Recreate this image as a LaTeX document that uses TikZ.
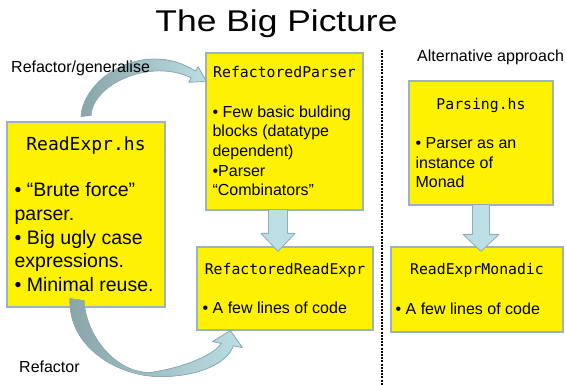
\documentclass[tikz,border=0pt]{standalone}
\usepackage{fontspec}
\usepackage{graphicx}
\setmainfont{Liberation Sans}
\setmonofont{DejaVu Sans Mono}
\usetikzlibrary{calc}

\definecolor{boxedge}{RGB}{155,178,196}
\definecolor{arrfill}{RGB}{187,223,228}
\definecolor{arredge}{RGB}{140,174,180}
\definecolor{arrdark}{RGB}{138,164,168}

\tikzset{
  box/.style={draw=boxedge, fill=yellow, line width=1.2pt, inner sep=0pt},
  code/.style={font=\ttfamily\fontsize{14.8}{17}\selectfont, anchor=base, inner sep=0pt},
  bullets/.style={font=\fontsize{16}{19.6}\selectfont, align=left, anchor=base west, inner sep=0pt},
  lbl/.style={font=\fontsize{16}{19}\selectfont, anchor=base west, inner sep=0pt},
  blockarr/.style={fill=arrfill, draw=arredge, line width=0.8pt, line join=round},
  curvearr/.style={left color=arrdark, right color=arrfill, draw=arredge, line width=0.8pt, line join=round}
}

\begin{document}
\begin{tikzpicture}[x=1pt, y=-1pt]

  \useasboundingbox (0,0) rectangle (566,385);

  \node[anchor=base, inner sep=0pt] (title) at (276.5,32)
    {\fontsize{30}{36}\selectfont\scalebox{1.18}[1]{The Big Picture}};

  % the boxes
  \node[box, minimum width=158pt, minimum height=185pt] (readexpr) at (86,214.5) {};
  \node[box, minimum width=157pt, minimum height=157pt] (rparser) at (284.5,131.5) {};
  \node[box, minimum width=176pt, minimum height=83pt] (rreadexpr) at (285,288.5) {};
  \node[box, minimum width=144pt, minimum height=124pt] (parsing) at (481,143) {};
  \node[box, minimum width=172pt, minimum height=85pt] (monadic) at (477,289.5) {};

  % separator
  \draw[line width=1.3pt, dash pattern=on 2pt off 1.2pt] (382,50) -- (382,385);

  % straight block arrows
  \coordinate (tipA) at ($(rreadexpr.north)+(-7,5)$);
  \coordinate (topA) at (tipA |- rparser.south);
  \filldraw[blockarr] ($(topA)+(-9.5,-1)$) -- ($(topA)+(9.5,-1)$) -- ($(tipA)+(9.5,-18)$)
    -- ($(tipA)+(17,-18)$) -- (tipA) -- ($(tipA)+(-17,-18)$) -- ($(tipA)+(-9.5,-18)$) -- cycle;

  \coordinate (tipB) at ($(monadic.north)+(4,5)$);
  \coordinate (topB) at (tipB |- parsing.south);
  \filldraw[blockarr] ($(topB)+(-8.5,-1)$) -- ($(topB)+(8.5,-1)$) -- ($(tipB)+(8.5,-17)$)
    -- ($(tipB)+(18,-17)$) -- (tipB) -- ($(tipB)+(-18,-17)$) -- ($(tipB)+(-8.5,-17)$) -- cycle;

  % curved arrows
  \coordinate (tailC) at ($(readexpr.north)+(0,-6)$);
  \coordinate (tipC) at ($(rparser.west)+(1,-50)$);
  \filldraw[curvearr] ($(tailC)+(-5,1)$) .. controls +(3,-40) and +(-50,-32) .. ($(tipC)+(-10.9,-10.4)$)
    -- ($(tipC)+(-8.3,-14.7)$) -- (tipC) -- ($(tipC)+(-17.7,0.7)$) -- ($(tipC)+(-15.1,-3.6)$)
    .. controls +(-40,-20) and +(2,-32) .. ($(tailC)+(5,0)$) -- cycle;

  \coordinate (tailD) at ($(readexpr.south)+(-9,-8)$);
  \coordinate (tipD) at ($(rreadexpr.south west)+(34,0)$);
  \filldraw[curvearr] ($(tailD)+(-7,-1)$) .. controls +(-2,50) and +(-40,0) .. ($(tailD)+(83,77)$)
    .. controls +(40,0) and +(-6,17) .. ($(tipD)+(2.9,15.2)$)
    -- ($(tipD)+(12,17)$) -- (tipD) -- ($(tipD)+(-18,11)$) -- ($(tipD)+(-8.9,12.8)$)
    .. controls +(-10,14) and +(28,-4) .. ($(tailD)+(73,73)$)
    .. controls +(-35,0) and +(2,35) .. ($(tailD)+(7,1)$) -- cycle;

  % box texts (base = last line)
  \node[code, font=\ttfamily\fontsize{18}{21}\selectfont] (readexprT) at ($(readexpr.north)+(0,29)$) {ReadExpr.hs};
  \node[bullets, font=\fontsize{19.5}{23.6}\selectfont] (readexprB) at ($(readexpr.north west)+(8,169.9)$)
    {• “Brute force”\\parser.\\• Big ugly case\\expressions.\\• Minimal reuse.};

  \node[code] (rparserT) at ($(rparser.north)+(0,25)$) {RefactoredParser};
  \node[bullets] (rparserB) at ($(rparser.north west)+(7,143.4)$)
    {• Few basic bulding\\blocks (datatype\\dependent)\\•Parser\\“Combinators”};

  \node[code] (rreadexprT) at ($(rreadexpr.north)+(0,28)$) {RefactoredReadExpr};
  \node[bullets] (rreadexprB) at ($(rreadexpr.north west)+(6,67)$) {• A few lines of code};

  \node[code] (parsingT) at ($(parsing.north)+(0,29)$) {Parsing.hs};
  \node[bullets] (parsingB) at ($(parsing.north west)+(7,107.6)$)
    {• Parser as an\\instance of\\Monad};

  \node[code] (monadicT) at ($(monadic.north)+(0,28)$) {ReadExprMonadic};
  \node[bullets] (monadicB) at ($(monadic.north west)+(5,68)$) {• A few lines of code};

  % labels
  \node[lbl] (lblgen) at (11,73) {Refactor/generalise};
  \node[lbl] (lblalt) at (417,62) {Alternative approach};
  \node[lbl] (lblref) at (19,372.5) {Refactor};

\end{tikzpicture}
\end{document}
